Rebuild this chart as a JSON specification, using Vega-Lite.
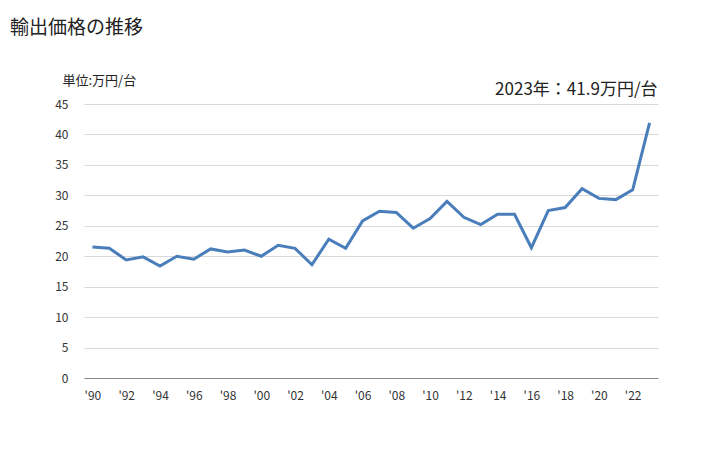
{
  "$schema": "https://vega.github.io/schema/vega-lite/v6.json",
  "width": 574,
  "height": 274,
  "autosize": {"type": "none"},
  "padding": {"left": 84, "top": 104, "right": 70, "bottom": 72},
  "background": "white",
  "config": {
    "font": "Noto Sans CJK JP",
    "view": {"stroke": null},
    "axisX": {
      "labelAngle": 0,
      "labelFontSize": 12,
      "labelColor": "#333333",
      "labelPadding": 12,
      "labelOverlap": false,
      "ticks": false,
      "grid": false,
      "domainColor": "#888888",
      "domainWidth": 1
    },
    "axisY": {
      "tickCount": 9,
      "labelOverlap": false,
      "titleAngle": 0,
      "titleAlign": "left",
      "titleBaseline": "alphabetic",
      "titleX": -22,
      "titleY": -20,
      "titleFontSize": 13,
      "titleFontWeight": "normal",
      "titleColor": "#222222",
      "labelFontSize": 12,
      "labelColor": "#333333",
      "labelPadding": 16,
      "ticks": false,
      "domain": false,
      "gridColor": "#d9d9d9",
      "gridWidth": 1
    }
  },
  "title": {
    "text": "輸出価格の推移",
    "anchor": "start",
    "frame": "group",
    "fontSize": 19,
    "fontWeight": "normal",
    "color": "#222222",
    "baseline": "alphabetic",
    "dx": -74,
    "offset": 0,
    "dy": -21
  },
  "data": {
    "values": [
      {"year": "1990", "value": 21.5},
      {"year": "1991", "value": 21.3},
      {"year": "1992", "value": 19.4},
      {"year": "1993", "value": 19.9},
      {"year": "1994", "value": 18.4},
      {"year": "1995", "value": 20.0},
      {"year": "1996", "value": 19.5},
      {"year": "1997", "value": 21.2},
      {"year": "1998", "value": 20.7},
      {"year": "1999", "value": 21.0},
      {"year": "2000", "value": 20.0},
      {"year": "2001", "value": 21.8},
      {"year": "2002", "value": 21.3},
      {"year": "2003", "value": 18.6},
      {"year": "2004", "value": 22.8},
      {"year": "2005", "value": 21.3},
      {"year": "2006", "value": 25.8},
      {"year": "2007", "value": 27.4},
      {"year": "2008", "value": 27.2},
      {"year": "2009", "value": 24.6},
      {"year": "2010", "value": 26.2},
      {"year": "2011", "value": 29.0},
      {"year": "2012", "value": 26.4},
      {"year": "2013", "value": 25.2},
      {"year": "2014", "value": 26.9},
      {"year": "2015", "value": 26.9},
      {"year": "2016", "value": 21.4},
      {"year": "2017", "value": 27.5},
      {"year": "2018", "value": 28.0},
      {"year": "2019", "value": 31.1},
      {"year": "2020", "value": 29.5},
      {"year": "2021", "value": 29.3},
      {"year": "2022", "value": 30.9},
      {"year": "2023", "value": 41.9}
    ]
  },
  "layer": [
    {
      "mark": {"type": "line", "color": "#4a7ebb", "strokeWidth": 3, "strokeJoin": "miter"},
      "encoding": {
        "x": {
          "field": "year",
          "type": "ordinal",
          "scale": {"type": "point", "padding": 0.5},
          "axis": {
            "title": null,
            "labelExpr": "toNumber(datum.value) % 2 == 0 ? \"'\" + substring(datum.value, 2, 4) : ''"
          }
        },
        "y": {
          "field": "value",
          "type": "quantitative",
          "scale": {"domain": [0, 45], "nice": false},
          "axis": {"title": "単位:万円/台"}
        }
      }
    },
    {
      "data": {"values": [{}]},
      "mark": {"type": "text", "align": "right", "baseline": "alphabetic", "fontSize": 17, "fontWeight": "normal", "color": "#222222", "dx": 8, "dy": -9},
      "encoding": {
        "x": {"datum": "2023", "type": "ordinal"},
        "y": {"datum": 45, "type": "quantitative"},
        "text": {"value": "2023年：41.9万円/台"}
      }
    }
  ]
}
